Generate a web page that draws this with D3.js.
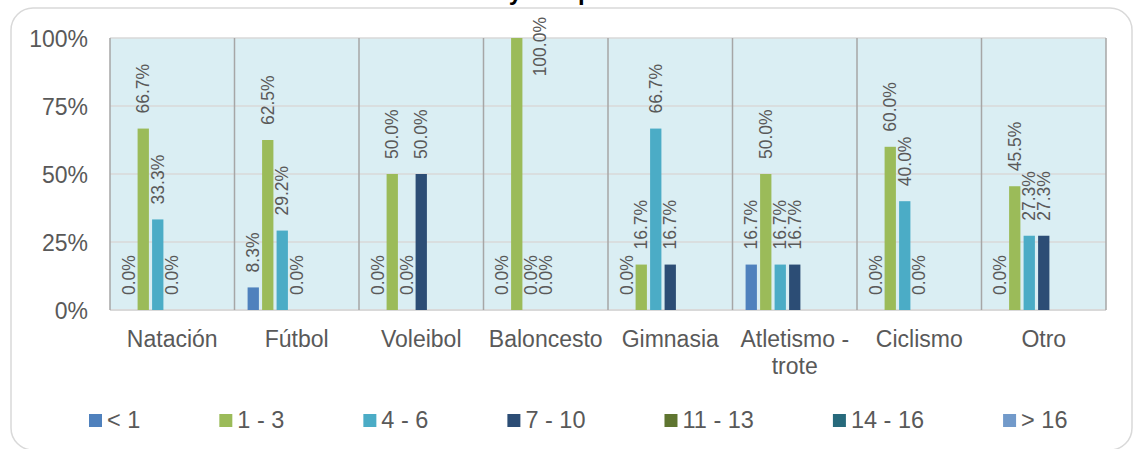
<!DOCTYPE html>
<html>
<head>
<meta charset="utf-8">
<script src="https://cdn.jsdelivr.net/npm/d3@7/dist/d3.min.js"></script>
<style>
  html, body { margin: 0; padding: 0; background: #ffffff; }
  svg { display: block; font-family: "Liberation Sans", Arial, sans-serif; }
</style>
</head>
<body>
<svg id="chart" width="1133" height="449"></svg>
<script>
// ---- data ----
const categories = ["Natación", "Fútbol", "Voleibol", "Baloncesto", "Gimnasia", "Atletismo - trote", "Ciclismo", "Otro"];
const seriesNames = ["< 1", "1 - 3", "4 - 6", "7 - 10", "11 - 13", "14 - 16", "> 16"];
const seriesColors = ["#4f81bd", "#9bbb59", "#4bacc6", "#2c4d75", "#5f7530", "#276a7c", "#729aca"];
const lessThan1  = [0.0, 8.3, 0.0, 0.0, 0.0, 16.7, 0.0, 0.0];
const oneToThree = [66.7, 62.5, 50.0, 100.0, 16.7, 50.0, 60.0, 45.5];
const fourToSix  = [33.3, 29.2, 0.0, 0.0, 66.7, 16.7, 40.0, 27.3];
const sevenToTen = [0.0, 0.0, 50.0, 0.0, 16.7, 16.7, 0.0, 27.3];
const elevenTo13 = [null, null, null, null, null, null, null, null];
const fourteenTo16 = [null, null, null, null, null, null, null, null];
const over16     = [null, null, null, null, null, null, null, null];
const seriesValues = [lessThan1, oneToThree, fourToSix, sevenToTen, elevenTo13, fourteenTo16, over16];
const yTicks = [0, 25, 50, 75, 100];
const titleText = "Actividad física y tiempo semanal";

// ---- layout ----
const svg = d3.select("#chart");
const plot = { left: 110, right: 1106, top: 38, bottom: 310 };
const textColor = "#595959";

// chart area border
svg.append("rect")
  .attr("x", 11).attr("y", 8).attr("width", 1121).attr("height", 442)
  .attr("rx", 22).attr("ry", 22)
  .attr("fill", "#ffffff").attr("stroke", "#d9d9d9").attr("stroke-width", 1.5);

// title (cropped at the top in the reference)
svg.append("text")
  .attr("x", 326).attr("y", 0)
  .attr("font-size", 24).attr("font-weight", "bold").attr("fill", "#000000")
  .text(titleText);

const x0 = d3.scaleBand().domain(categories).range([plot.left, plot.right]).paddingInner(0).paddingOuter(0);
const x1 = d3.scaleBand().domain(d3.range(seriesNames.length)).range([0, x0.bandwidth()])
  .paddingInner(0.22).paddingOuter(0.903);
const y = d3.scaleLinear().domain([0, 100]).range([plot.bottom, plot.top]);

// plot background
svg.append("rect")
  .attr("x", plot.left).attr("y", plot.top)
  .attr("width", plot.right - plot.left).attr("height", plot.bottom - plot.top)
  .attr("fill", "#daeef3");

// horizontal gridlines
svg.append("g").selectAll("line").data(yTicks).join("line")
  .attr("x1", plot.left).attr("x2", plot.right)
  .attr("y1", d => y(d)).attr("y2", d => y(d))
  .attr("stroke", "#d9d9d9").attr("stroke-width", d => d === 0 ? 2 : 1.5);

// vertical category separators
const sepPositions = categories.map(c => x0(c)).concat([plot.right]);
svg.append("g").selectAll("line").data(sepPositions).join("line")
  .attr("x1", d => d).attr("x2", d => d)
  .attr("y1", plot.top).attr("y2", plot.bottom)
  .attr("stroke", "#a6a6a6").attr("stroke-width", 1.5);

// y axis labels
const yAxis = d3.axisLeft(y).tickValues(yTicks).tickFormat(d => d + "%").tickSize(0).tickPadding(0);
const yg = svg.append("g").attr("transform", `translate(${88},0)`).call(yAxis);
yg.select(".domain").remove();
yg.selectAll("text").attr("font-size", 23).attr("fill", textColor)
  .attr("font-family", "Liberation Sans, Arial, sans-serif").attr("dy", "0.35em");

// bars
const barData = [];
categories.forEach((c, ci) => {
  seriesValues.forEach((vals, si) => {
    if (vals[ci] !== null) barData.push({ c, ci, si, v: vals[ci] });
  });
});
svg.append("g").selectAll("rect").data(barData).join("rect")
  .attr("x", d => x0(d.c) + x1(d.si))
  .attr("width", x1.bandwidth())
  .attr("y", d => y(d.v))
  .attr("height", d => plot.bottom - y(d.v))
  .attr("fill", d => seriesColors[d.si]);

// data labels
const labelG = svg.append("g");
barData.forEach(d => {
  const cx = x0(d.c) + x1(d.si) + x1.bandwidth() / 2;
  const t = labelG.append("text")
    .attr("font-size", 17.5).attr("fill", textColor)
    .attr("text-anchor", "start").attr("dy", "0.35em")
    .text(d.v.toFixed(1) + "%");
  const len = t.node().getComputedTextLength();
  let by = y(d.v) - 15;
  let lx = cx;
  if (by - len < 17) { by = 17 + len; lx = cx + 1.6 * x1.step(); }
  t.attr("transform", `translate(${lx},${by}) rotate(-90)`);
});

// category labels
const catG = svg.append("g");
categories.forEach(c => {
  const parts = c === "Atletismo - trote" ? ["Atletismo -", "trote"] : [c];
  const t = catG.append("text")
    .attr("x", x0(c) + x0.bandwidth() / 2).attr("y", 347)
    .attr("text-anchor", "middle").attr("font-size", 23).attr("fill", textColor);
  parts.forEach((p, i) => {
    t.append("tspan").attr("x", x0(c) + x0.bandwidth() / 2).attr("dy", i === 0 ? 0 : 27).text(p);
  });
});

// legend
const legG = svg.append("g");
let lxPos = 89;
seriesNames.forEach((n, i) => {
  legG.append("rect").attr("x", lxPos).attr("y", 414).attr("width", 13).attr("height", 13)
    .attr("fill", seriesColors[i]);
  const t = legG.append("text").attr("x", lxPos + 18).attr("y", 428)
    .attr("font-size", 23.5).attr("fill", textColor).text(n);
  const w = t.node().getComputedTextLength();
  lxPos = lxPos + 18 + w + 79;
});
</script>
</body>
</html>
